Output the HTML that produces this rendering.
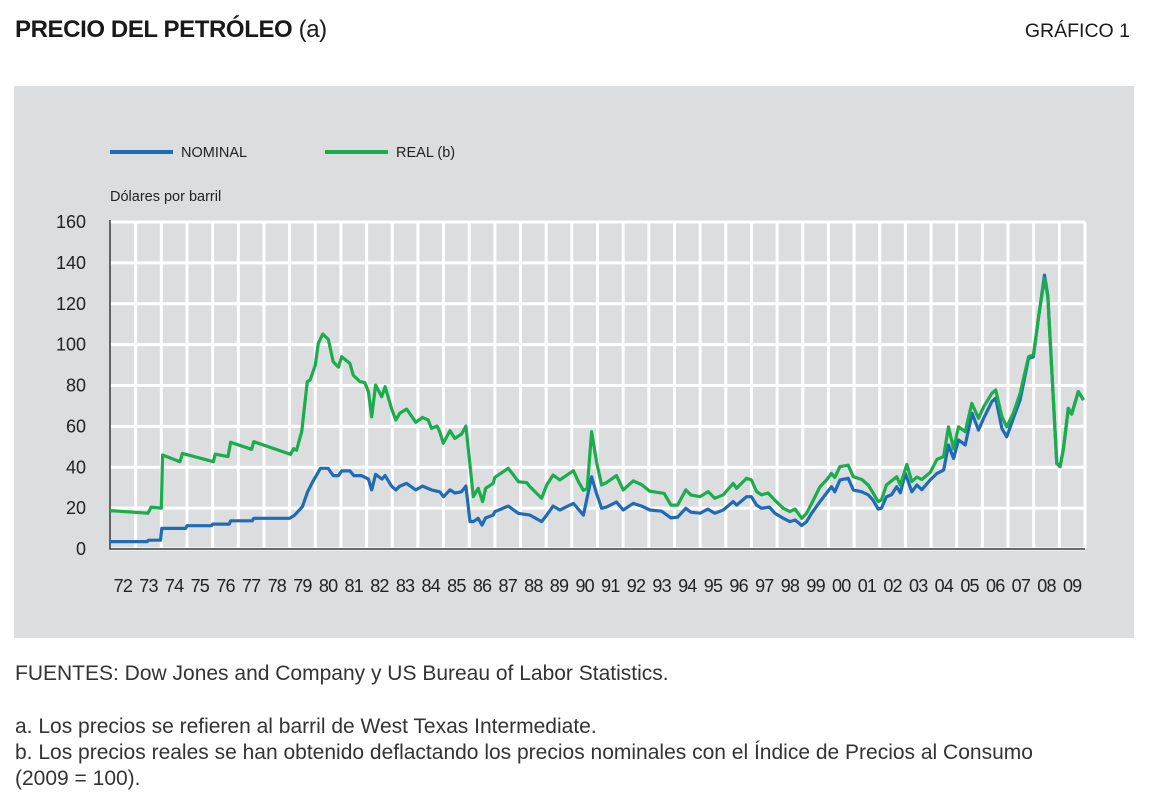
<!DOCTYPE html>
<html><head><meta charset="utf-8">
<style>
body{margin:0;width:1156px;height:793px;background:#fff;font-family:"Liberation Sans",sans-serif;color:#1a1a1a;position:relative;overflow:hidden}
.t{position:absolute;white-space:nowrap}
</style></head><body>
<div class="t" style="left:15px;top:16px;font-size:24px;letter-spacing:-0.4px"><b style="font-weight:600">PRECIO DEL PETRÓLEO</b> (a)</div>
<div class="t" style="right:26px;top:20px;font-size:19.5px">GRÁFICO 1</div>
<div style="position:absolute;left:14px;top:86px;width:1120px;height:552px;background:#dcdddf"></div>
<svg id="chart" width="1156" height="793" style="position:absolute;left:0;top:0" font-family="Liberation Sans, sans-serif"></svg>
<div class="t" style="left:15px;top:662px;font-size:21px;color:#333">FUENTES: Dow Jones and Company y US Bureau of Labor Statistics.</div>
<div class="t" style="left:15px;top:715px;font-size:21px;color:#333">a. Los precios se refieren al barril de West Texas Intermediate.</div>
<div class="t" style="left:15px;top:740px;font-size:21px;line-height:26px;color:#333">b. Los precios reales se han obtenido deflactando los precios nominales con el Índice de Precios al Consumo<br>(2009 = 100).</div>
<script>
const yTicks=[0,20,40,60,80,100,120,140,160];
const yearLabels=["72","73","74","75","76","77","78","79","80","81","82","83","84","85","86","87","88","89","90","91","92","93","94","95","96","97","98","99","00","01","02","03","04","05","06","07","08","09"];
const realDates=[72.0,73.48,73.6,74.0,74.05,74.73,74.82,76.03,76.1,76.6,76.7,77.52,77.6,79.04,79.15,79.27,79.47,79.69,79.8,80.0,80.12,80.29,80.51,80.7,80.9,81.03,81.35,81.48,81.74,81.93,82.07,82.2,82.35,82.59,82.72,82.97,83.14,83.3,83.56,83.92,84.18,84.4,84.53,84.75,84.85,84.99,85.25,85.44,85.7,85.87,86.16,86.35,86.52,86.64,86.93,87.0,87.52,87.72,87.92,88.24,88.37,88.82,89.02,89.27,89.53,90.06,90.26,90.45,90.6,90.77,90.96,91.16,91.35,91.74,92.0,92.39,92.72,93.04,93.6,93.86,94.12,94.44,94.64,95.0,95.31,95.57,95.9,96.29,96.42,96.81,97.0,97.2,97.39,97.65,97.91,98.24,98.5,98.7,98.96,99.15,99.35,99.67,99.93,100.12,100.25,100.45,100.77,100.97,101.3,101.55,101.74,101.94,102.07,102.26,102.66,102.8,103.06,103.25,103.45,103.64,103.97,104.23,104.49,104.68,104.88,105.07,105.33,105.59,105.85,106.05,106.37,106.52,106.76,106.95,107.21,107.47,107.8,107.99,108.19,108.42,108.55,108.9,109.03,109.16,109.35,109.48,109.74,109.94];
const realValues=[18.8,17.5,20.5,20,46,42.7,46.8,42.7,46.4,45.2,52.2,48.8,52.5,46.3,49.1,48.3,57.4,81.9,82.7,90,100.6,105.2,102.6,91.6,89,94.1,90.8,85.1,81.9,81.4,77,64.7,80.2,74.5,79.4,68.8,63.1,66.5,68.5,62,64.4,63.1,59,60.2,57.4,51.7,57.9,54.1,56.2,60.2,25.6,29.7,23.2,29.7,32.1,35.1,39.5,36.3,32.9,32.5,30.5,24.8,31.3,36.2,33.8,38.3,32.9,28.7,29.5,57.4,42.7,31.3,32.5,35.9,28.9,33.3,31.5,28.3,27.2,21.5,21.5,28.9,26.4,25.6,28.1,24.8,26.5,32.1,29.7,34.6,33.8,28.1,26.5,27.4,23.9,19.9,18.3,19.5,15,17.5,22.3,30.5,33.8,37,35,40.3,41,35.4,34,31.3,27.4,23.2,24,31.3,35.4,31.3,41.4,33,35.2,34,37.5,43.9,45.2,59.8,49,59.8,57.4,71.3,64,69.6,76.2,77.8,64.8,59.8,66.5,76.2,94.1,95,113.6,132.4,123.4,41.9,40.3,49,68.8,66,77,72.9];
const nomDates=[72.0,73.45,73.5,73.97,74.02,74.95,75.0,75.95,76.0,76.65,76.7,77.55,77.6,79.0,79.2,79.5,79.7,79.9,80.2,80.5,80.7,80.9,81.03,81.35,81.5,81.8,82.07,82.2,82.35,82.6,82.72,82.97,83.14,83.3,83.56,83.92,84.18,84.53,84.85,85.0,85.25,85.44,85.7,85.87,86.03,86.16,86.35,86.5,86.64,86.93,87.0,87.52,87.92,88.37,88.82,89.02,89.27,89.53,90.06,90.45,90.77,90.96,91.16,91.35,91.74,92.0,92.39,92.72,93.04,93.5,93.86,94.12,94.44,94.64,95.0,95.3,95.57,95.9,96.29,96.42,96.81,97.0,97.2,97.39,97.7,97.91,98.24,98.5,98.7,98.96,99.15,99.35,99.67,99.93,100.12,100.25,100.45,100.77,100.97,101.3,101.55,101.74,101.94,102.07,102.26,102.46,102.66,102.8,103.0,103.25,103.45,103.64,103.97,104.23,104.49,104.68,104.88,105.07,105.33,105.6,105.85,106.05,106.37,106.52,106.76,106.95,107.21,107.47,107.8,107.99,108.19,108.42,108.55,108.9,109.03,109.16,109.35,109.48,109.74,109.94];
const nomValues=[3.6,3.6,4.3,4.3,10.1,10.1,11.4,11.4,12.2,12.2,13.8,13.8,15,15,16.6,20.7,28,32.9,39.5,39.5,35.9,35.9,38.2,38.2,35.9,35.9,34.2,28.9,36.5,34.2,35.9,30.8,28.9,30.8,32.1,28.9,30.8,28.9,28,25.6,28.9,27.4,28,30.8,13.4,13.4,15,11.7,15.2,16.6,18.3,21,17.4,16.6,13.4,16.6,21,19.1,22.3,16.6,35.4,27.2,19.9,20.5,23,19.1,22.3,21,19.1,18.5,15.2,15.6,19.9,18,17.5,19.5,17.5,19.1,23.2,21.5,25.6,25.6,21.5,19.9,20.5,17.5,15,13.4,14.2,11.5,13.4,17.5,23.2,27.4,30.5,28,33.8,34.6,28.9,28,26.5,23.9,19.5,20,25.6,26.5,30.5,27.5,37,28,31.3,29,33.8,37,38.6,50.9,44.3,53.4,50.9,66.4,58.2,64,72.1,73.8,59,54.9,64,72.9,93.3,94,113.6,134,124,41.9,40.3,49,68.8,66,77,72.9];
const NS="http://www.w3.org/2000/svg";
const svg=document.getElementById('chart');
const X0=110,X1=1085,Y0=549,Y160=222;
function xs(t){return X0+(t-72)*(X1-X0)/38;}
function ys(v){return Y0-v*(Y0-Y160)/160;}
function mk(tag,attrs,parent){const e=document.createElementNS(NS,tag);for(const k in attrs)e.setAttribute(k,attrs[k]);(parent||svg).appendChild(e);return e;}
const bg=mk('rect',{x:X0,y:Y160,width:X1-X0,height:Y0-Y160,fill:'#dcdddf'});


yTicks.forEach(v=>{
  const l=mk('line',{x1:X0,x2:X1,y1:ys(v),y2:ys(v),stroke:'#fff','stroke-width':3});
  
  
  const t=mk('text',{x:86,y:ys(v)+6,'text-anchor':'end','font-size':18,fill:'#222'});
  t.textContent=v;
  
  
});
yearLabels.forEach((lab,i)=>{
  const l=mk('line',{x1:xs(72+i+1),x2:xs(72+i+1),y1:Y160,y2:Y0,stroke:'#fff','stroke-width':3});
  
  
  const t=mk('text',{x:xs(72+i+0.5),y:592,'text-anchor':'middle','font-size':18,fill:'#222','letter-spacing':'-0.8'});
  t.textContent=lab;
  
  
});
const ax=mk('path',{d:`M${X0} ${Y160-2}V${Y0}H${X1}`,stroke:'#111','stroke-width':1.2,fill:'none'});


function line(d,v,col,name){
  const p=mk('path',{d:d.map((t,i)=>(i?'L':'M')+xs(t).toFixed(1)+' '+ys(v[i]).toFixed(1)).join(''),stroke:col,'stroke-width':3.2,fill:'none','stroke-linejoin':'round'});
  
  
}
line(nomDates,nomValues,'#1f6bb8','nominal-line');
line(realDates,realValues,'#1aad4b','real-line');
const lg1=mk('line',{x1:110,x2:173,y1:152,y2:152,stroke:'#1f6bb8','stroke-width':4});


const lt1=mk('text',{x:181,y:157,'font-size':14.5,fill:'#222'});lt1.textContent='NOMINAL';


const lg2=mk('line',{x1:325,x2:388,y1:152,y2:152,stroke:'#1aad4b','stroke-width':4});


const lt2=mk('text',{x:396,y:157,'font-size':14.5,fill:'#222'});lt2.textContent='REAL (b)';


const yt=mk('text',{x:110,y:201,'font-size':14.5,fill:'#222'});yt.textContent='Dólares por barril';


</script>
</body></html>
